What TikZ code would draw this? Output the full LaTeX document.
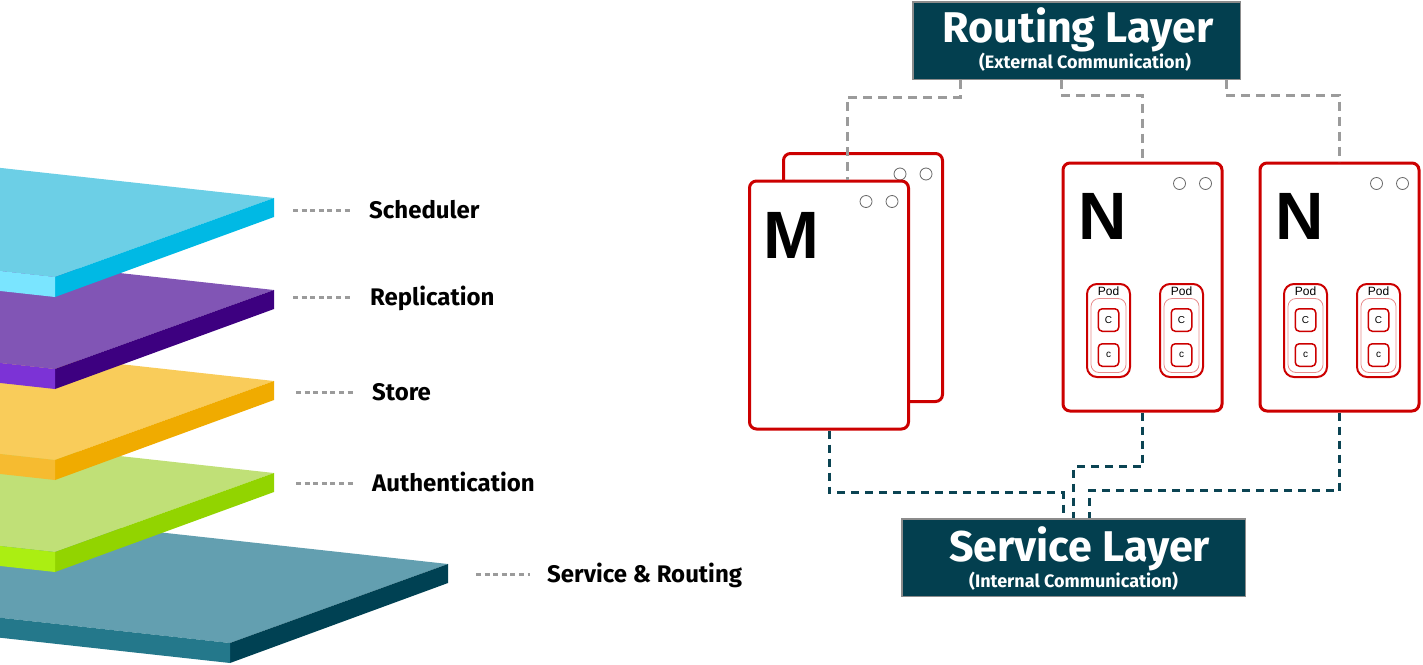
\documentclass[tikz,border=0pt]{standalone}
\usepackage{fontspec}
\setmainfont{Fira Sans}
\newfontfamily\boxfont{Liberation Sans}
\usepackage{tikz}

\definecolor{rhred}{HTML}{CC0000}
\definecolor{layerteal}{HTML}{033F4F}
\definecolor{boxedge}{HTML}{8C8C8C}
\definecolor{wireteal}{HTML}{0B4453}
\definecolor{wiregray}{HTML}{9B9B9B}
\definecolor{ledgray}{HTML}{666666}
\definecolor{srvtop}{HTML}{639FB0}
\definecolor{srvright}{HTML}{004153}
\definecolor{srvleft}{HTML}{24788B}
\definecolor{authtop}{HTML}{C0E077}
\definecolor{authright}{HTML}{92D400}
\definecolor{authleft}{HTML}{ABEE12}
\definecolor{storetop}{HTML}{F9CC5A}
\definecolor{storeright}{HTML}{F0AB00}
\definecolor{storeleft}{HTML}{F6BB30}
\definecolor{repltop}{HTML}{8155B5}
\definecolor{replright}{HTML}{3D0080}
\definecolor{replleft}{HTML}{7C33D6}
\definecolor{schedtop}{HTML}{6CCFE6}
\definecolor{schedright}{HTML}{00B9E4}
\definecolor{schedleft}{HTML}{7AE5FF}

\begin{document}
\begin{tikzpicture}[x=1pt,y=-1pt]
    \tikzstyle{machine}=[draw=rhred,fill=white,line width=3pt,rounded corners=7pt,minimum width=159pt,minimum height=248pt,inner sep=0pt]
    \tikzstyle{led}=[circle,draw=ledgray,line width=0.8pt,minimum size=12pt,inner sep=0pt]
    \tikzstyle{big letter}=[anchor=base west,inner sep=0pt,font=\boxfont\bfseries\fontsize{67}{70}\selectfont]
    \tikzstyle{pod}=[draw=rhred,line width=2pt,rounded corners=10pt,minimum width=43pt,minimum height=93pt,inner sep=0pt]
    \tikzstyle{pod inner}=[draw=rhred!45,line width=0.8pt,rounded corners=8pt,minimum width=35pt,minimum height=74pt,inner sep=0pt]
    \tikzstyle{pod label}=[anchor=base,inner sep=0pt,font=\boxfont\fontsize{12}{12}\selectfont]
    \tikzstyle{container}=[draw=rhred,fill=white,line width=1.5pt,rounded corners=4pt,minimum width=20.5pt,minimum height=22.5pt,inner sep=0pt,font=\boxfont\fontsize{10}{10}\selectfont]
    \tikzstyle{layer box}=[draw=boxedge,fill=layerteal,line width=1.5pt,minimum height=77.5pt,inner sep=0pt]
    \tikzstyle{box title}=[anchor=base,inner sep=0pt,text=white,font=\bfseries\fontsize{43}{45}\selectfont]
    \tikzstyle{box sub}=[anchor=base,inner sep=0pt,text=white,font=\bfseries\fontsize{18}{20}\selectfont]
    \tikzstyle{route wire}=[draw=wiregray,line width=3pt,dash pattern=on 9pt off 6pt]
    \tikzstyle{service wire}=[draw=wireteal,line width=3pt,dash pattern=on 8pt off 6pt]
    \tikzstyle{dot rule}=[draw=wiregray,line width=3pt,dash pattern=on 5pt off 3.6pt,shorten >=17pt]
    \tikzstyle{layer label}=[anchor=base west,inner sep=0pt,font=\bfseries\fontsize{24}{26}\selectfont]

    \useasboundingbox (0,0) rectangle (1423,664);
    \clip (0,0) rectangle (1423,664);

    % Draw the layer slabs, the lowest one first
    \foreach \fx/\fy/\rx/\ry/\lay in {230/643/448/564/srv, 55/552/274/473/auth, 55/460/274/381/store, 55/369/274/290/repl, 55/277/274/198/sched}
    {
        \fill[fill=\lay top] (\fx,\fy) -- (\rx,\ry) -- (\rx-400,\ry-44) -- (\fx-400,\fy-44) -- cycle;
        \fill[fill=\lay right] (\fx,\fy) -- (\rx,\ry) -- (\rx,\ry+19) -- (\fx,\fy+20) -- cycle;
        \fill[fill=\lay left] (\fx,\fy) -- (\fx-400,\fy-44) -- (\fx-400,\fy-24) -- (\fx,\fy+20) -- cycle;
    }

    % Annotate the layers
    \foreach \name/\txt/\x/\tx/\y in {sched/Scheduler/293/369/210, repl/Replication/293/370/297, store/Store/296/372/392, auth/Authentication/296/372/483, svcrt/{Service \& Routing}/476/547/574}
    {
        \coordinate (\name-tick) at (\x,\y);
        \node[layer label] (\name) at (\tx,\y+8) {\txt};
        \draw[dot rule] (\name-tick) -- (\name-tick -| \name.west);
    }

    % Draw the machines with their two lights
    \foreach \m/\x/\y in {mback/863/277.5, mfront/829/305, node1/1142.5/287, node2/1339.5/287}
    {
        \node[machine] (\m) at (\x,\y) {};
        \node[led] (\m-led1) at ([xshift=-44pt,yshift=-22pt]\m.north east) {};
        \node[led] (\m-led2) at ([xshift=-18pt,yshift=-22pt]\m.north east) {};
    }
    \node[big letter] (mfront-name) at ([xshift=15pt,yshift=-79pt]mfront.north west) {M};
    \node[big letter] (node1-name) at ([xshift=17pt,yshift=-78pt]node1.north west) {N};
    \node[big letter] (node2-name) at ([xshift=17pt,yshift=-78pt]node2.north west) {N};

    % Two pods in every node, two containers in every pod
    \foreach \n in {node1,node2}
        \foreach \p/\dx in {1/-34,2/39}
        {
            \node[pod] (\n-pod\p) at ([xshift=\dx pt,yshift=-43.5pt]\n.center) {};
            \node[pod inner] (\n-pod\p-in) at ([yshift=-5pt]\n-pod\p.center) {};
            \node[pod label] (\n-pod\p-lbl) at ([yshift=-12pt]\n-pod\p.north) {Pod};
            \node[container] (\n-pod\p-c1) at ([yshift=10.5pt]\n-pod\p.center) {C};
            \node[container] (\n-pod\p-c2) at ([yshift=-24.5pt]\n-pod\p.center) {c};
        }

    % Routing and service layers
    \node[layer box,minimum width=327.5pt] (routing) at (1076.5,40.5) {};
    \node[box title] (routing-title) at (1078,42) {Routing Layer};
    \node[box sub] (routing-sub) at (1085,68) {(External Communication)};
    \node[layer box,minimum width=343.5pt] (service) at (1073.5,557.5) {};
    \node[box title] (service-title) at (1079.5,561) {Service Layer};
    \node[box sub] (service-sub) at (1073.5,587) {(Internal Communication)};

    % Connect the layers with the machines
    \draw[route wire] ([xshift=-116.5pt]routing.south) -- ++(0,17) -| ([xshift=18pt]mfront.north);
    \draw[route wire] ([xshift=-15.5pt]routing.south) -- ++(0,15) -| (node1.north);
    \draw[route wire] ([xshift=149.5pt]routing.south) -- ++(0,15) -| (node2.north);
    \draw[service wire] (mfront.south) -- ++(0,62) -| ([xshift=-10.5pt]service.north);
    \draw[service wire] (node1.south) -- ++(0,54) -| (service.north);
    \draw[service wire] (node2.south) -- ++(0,78) -| ([xshift=15.5pt]service.north);
\end{tikzpicture}
\end{document}
